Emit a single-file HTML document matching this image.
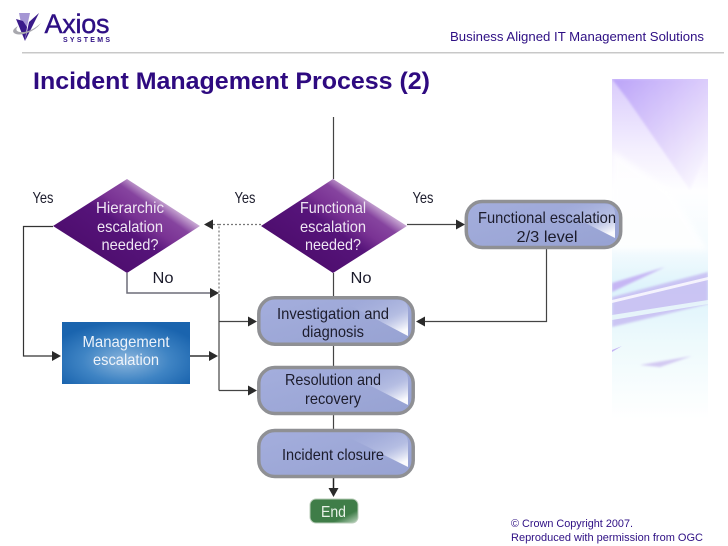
<!DOCTYPE html>
<html><head><meta charset="utf-8"><style>html,body{margin:0;padding:0;background:#fff;width:728px;height:546px;overflow:hidden}svg{display:block}</style></head>
<body>
<svg width="728" height="546" viewBox="0 0 728 546" xmlns="http://www.w3.org/2000/svg" font-family="'Liberation Sans',sans-serif">
<defs>
<linearGradient id="p1" x1="0" y1="0" x2="1" y2="1"><stop offset="0" stop-color="#b59cf8"/><stop offset=".5" stop-color="#dccdfb"/><stop offset="1" stop-color="#ffffff"/></linearGradient>
<linearGradient id="pan" x1="0" y1="0" x2="0" y2="1"><stop offset="0" stop-color="#d9cbfc"/><stop offset=".2" stop-color="#f3eefe"/><stop offset=".33" stop-color="#fefeff"/><stop offset=".5" stop-color="#f4fbfe"/><stop offset=".62" stop-color="#ddf3fb"/><stop offset=".78" stop-color="#eefafc"/><stop offset="1" stop-color="#ffffff"/></linearGradient>
<linearGradient id="dia" x1="0.15" y1="0.9" x2="0.92" y2="0.2"><stop offset="0" stop-color="#4b0b6a"/><stop offset=".48" stop-color="#56147a"/><stop offset=".62" stop-color="#7a3394"/><stop offset=".76" stop-color="#86449f"/><stop offset=".86" stop-color="#c9a9d4"/><stop offset=".97" stop-color="#fbf7fc"/><stop offset="1" stop-color="#ffffff"/></linearGradient>
<linearGradient id="box" x1="0" y1="0" x2="1" y2="1"><stop offset="0" stop-color="#a4aedd"/><stop offset="1" stop-color="#97a2d2"/></linearGradient>
<linearGradient id="gl" x1="0.3" y1="0" x2="1" y2="0.8"><stop offset="0" stop-color="#b4bde4" stop-opacity="0"/><stop offset=".6" stop-color="#c8cfec" stop-opacity=".55"/><stop offset="1" stop-color="#ffffff" stop-opacity=".95"/></linearGradient>
<radialGradient id="blue" cx=".5" cy=".62" r=".62"><stop offset="0" stop-color="#8cb6dd"/><stop offset=".55" stop-color="#3f84c4"/><stop offset="1" stop-color="#1a64ae"/></radialGradient>
<linearGradient id="gr" x1="0" y1="0" x2="1" y2="1"><stop offset="0" stop-color="#3f7d48"/><stop offset=".72" stop-color="#3f7d48"/><stop offset="1" stop-color="#c0d8c2"/></linearGradient>
<filter id="b4" x="-30%" y="-30%" width="160%" height="160%"><feGaussianBlur stdDeviation="3"/></filter>
<filter id="b1" x="-30%" y="-100%" width="160%" height="300%"><feGaussianBlur stdDeviation="1"/></filter>
<clipPath id="pc"><rect x="612" y="79" width="96" height="340"/></clipPath>
</defs>

<!-- side panel -->
<rect x="612" y="79" width="96" height="340" fill="url(#pan)"/>
<g clip-path="url(#pc)">
<polygon points="612,79 708,79 708,150 690,190 628,100" fill="url(#p1)" opacity=".85" filter="url(#b1)"/>
<polygon points="612,150 670,190 708,250 612,250" fill="#ffffff" opacity=".8" filter="url(#b4)"/>
<polygon points="612,283 665,267 612,292" fill="#c6b6f4" filter="url(#b1)"/>
<polygon points="612,297 708,272 708,304 612,327" fill="#c5b9f2" opacity=".8" filter="url(#b1)"/>
<polygon points="612,300 708,277 708,280 612,303" fill="#ffffff" opacity=".8"/>
<polygon points="612,315 708,300 708,304 612,320" fill="#e9f8fb" opacity=".9"/>
<polygon points="640,365 692,356 660,367" fill="#d3c9f2" filter="url(#b1)"/>
<polygon points="612,350 622,346 612,352" fill="#c6b6f4"/>
</g>

<!-- header -->
<polygon points="19,13 30,13 27,27 21,23" fill="#a596d4"/>
<polygon points="39,13 25,41 29,22" fill="#3a1a8a"/>
<polygon points="16,19 23,21 27,27 25,41" fill="#3a1a8a"/>
<path d="M41,23 Q30,33 20,32 Q14,31 18,26 Q11,30 14,33 Q18,36 27,33 Q36,30 41,23Z" fill="#a8a8ae"/>
<text x="44.500" y="33" font-size="27" fill="#2e0f84" stroke="#2e0f84" stroke-width=".4" textLength="65">Axios</text>
<text x="63" y="42" font-size="7" font-weight="bold" fill="#2e0f84" textLength="47">SYSTEMS</text>
<rect x="22" y="52" width="702" height="1.5" fill="#c8c8c8"/>
<text x="450" y="41" font-size="13" fill="#2e0f84" textLength="254" lengthAdjust="spacingAndGlyphs">Business Aligned IT Management Solutions</text>
<text x="33" y="89" font-size="24" font-weight="bold" fill="#2e0a80" textLength="397" lengthAdjust="spacingAndGlyphs">Incident Management Process (2)</text>

<!-- connectors -->
<g fill="none" stroke="#444" stroke-width="1.2">
<path d="M333.5,117V179M333.5,273V296M333.5,346V366M333.5,415V429"/>
<path d="M333.5,477V492" stroke="#222" stroke-width="1.5"/>
<path d="M53,226.5H23.5V356H52" stroke="#333"/>
<path d="M190,356H212" stroke="#666" stroke-width="2"/>
<path d="M219,294V390.500M219,321.500H248M219,390.500H248"/>
<path d="M127,273V293H212" stroke="#6d6d78" stroke-width="1.5"/>
<path d="M407,224.500H458"/>
<path d="M546.500,249V321.500H425"/>
<path d="M261,224.500H219V294M213,224.500H219" stroke="#777" stroke-dasharray="2 2"/>
</g>
<g fill="#2a2a2a">
<polygon points="61,356 52,351 52,361"/>
<polygon points="218,356 209,351 209,361"/>
<polygon points="219,293 210,288 210,298"/>
<polygon points="257,321.500 248,316.500 248,326.500"/>
<polygon points="257,390.500 248,385.500 248,395.500"/>
<polygon points="465,224.500 456,219.500 456,229.500"/>
<polygon points="416,321.500 425,316.500 425,326.500"/>
<polygon points="204,224.500 213,219.500 213,229.500"/>
<polygon points="333.500,497 328.500,488 338.500,488"/>
</g>

<!-- diamonds -->
<polygon points="53,226 127,179 200,226 127,273" fill="url(#dia)"/>
<polygon points="261,226 333,179 407,226 333,273" fill="url(#dia)"/>
<g fill="#efe6f3" font-size="16" text-anchor="middle">
<text x="130" y="213" textLength="68" lengthAdjust="spacingAndGlyphs">Hierarchic</text>
<text x="130" y="232" textLength="66" lengthAdjust="spacingAndGlyphs">escalation</text>
<text x="130" y="250" textLength="57" lengthAdjust="spacingAndGlyphs">needed?</text>
<text x="333" y="213" textLength="66" lengthAdjust="spacingAndGlyphs">Functional</text>
<text x="333" y="232" textLength="66" lengthAdjust="spacingAndGlyphs">escalation</text>
<text x="333" y="250" textLength="56" lengthAdjust="spacingAndGlyphs">needed?</text>
</g>

<!-- process boxes -->
<g stroke="#8f9094" stroke-width="3.500" fill="url(#box)">
<rect x="258.800" y="297.800" width="154.400" height="46.400" rx="16"/>
<rect x="258.800" y="367.500" width="154.400" height="46" rx="16"/>
<rect x="258.800" y="430.500" width="154.400" height="46" rx="16"/>
<rect x="466.300" y="201.500" width="154.400" height="46" rx="16"/>
</g>
<g fill="url(#gl)">
<path d="M340,300H398Q408,300 408,310V336Z"/>
<path d="M340,370H398Q408,370 408,380V405Z"/>
<path d="M340,433H398Q408,433 408,443V467Z"/>
<path d="M548,204H605Q615,204 615,214V238Z"/>
</g>

<!-- management -->
<rect x="62" y="322" width="128" height="62" fill="url(#blue)"/>

<!-- end -->
<rect x="310" y="499" width="48" height="24" rx="6" fill="url(#gr)" stroke="#b9cdb9"/>

<!-- labels -->
<g fill="#1c1c2c" font-size="16" text-anchor="middle">
<text x="333" y="319" textLength="112" lengthAdjust="spacingAndGlyphs">Investigation and</text>
<text x="333" y="337" textLength="62" lengthAdjust="spacingAndGlyphs">diagnosis</text>
<text x="333" y="385" textLength="96" lengthAdjust="spacingAndGlyphs">Resolution and</text>
<text x="333" y="404" textLength="56" lengthAdjust="spacingAndGlyphs">recovery</text>
<text x="333" y="460" textLength="102" lengthAdjust="spacingAndGlyphs">Incident closure</text>
<text x="547" y="223" textLength="138" lengthAdjust="spacingAndGlyphs">Functional escalation</text>
<text x="547" y="242" textLength="61" lengthAdjust="spacingAndGlyphs">2/3 level</text>
<text x="43" y="203" textLength="21" lengthAdjust="spacingAndGlyphs">Yes</text>
<text x="245" y="203" textLength="21" lengthAdjust="spacingAndGlyphs">Yes</text>
<text x="423" y="203" textLength="21" lengthAdjust="spacingAndGlyphs">Yes</text>
<text x="163" y="283" textLength="21" lengthAdjust="spacingAndGlyphs">No</text>
<text x="361" y="283" textLength="21" lengthAdjust="spacingAndGlyphs">No</text>
</g>
<g fill="#eef3fa" font-size="16" text-anchor="middle">
<text x="126" y="347" textLength="87" lengthAdjust="spacingAndGlyphs">Management</text>
<text x="126" y="365" textLength="66" lengthAdjust="spacingAndGlyphs">escalation</text>
</g>
<text x="333.500" y="517" font-size="16" fill="#e8f2e8" text-anchor="middle" textLength="25" lengthAdjust="spacingAndGlyphs">End</text>

<!-- footer -->
<g fill="#2e0f84" font-size="11">
<text x="511" y="527" textLength="122" lengthAdjust="spacingAndGlyphs">© Crown Copyright 2007.</text>
<text x="511" y="541" textLength="192" lengthAdjust="spacingAndGlyphs">Reproduced with permission from OGC</text>
</g>
</svg>
</body></html>
